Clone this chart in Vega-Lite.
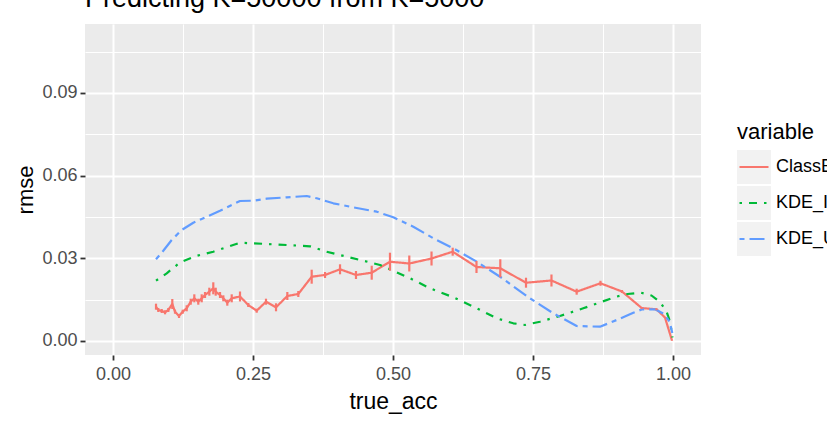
{
  "$schema": "https://vega.github.io/schema/vega-lite/v6.json",
  "width": 616,
  "height": 331,
  "autosize": {"type": "none"},
  "padding": {"left": 85, "top": 24, "right": 126, "bottom": 69},
  "background": "white",
  "title": {"text": "Predicting K=50000 from K=5000", "anchor": "start", "frame": "group", "fontSize": 27, "font": "Liberation Sans", "fontWeight": "normal", "color": "black", "baseline": "alphabetic", "offset": -10},
  "config": {
    "view": {"fill": "#ebebeb", "stroke": null},
    "font": "Liberation Sans",
    "legend": {"orient": "none", "legendX": 652, "legendY": 98, "titleFontSize": 22, "titleFontWeight": "normal", "titleColor": "black", "titleFont": "Liberation Sans", "labelFont": "Liberation Sans", "labelFontSize": 18, "labelColor": "black", "symbolType": "stroke", "symbolSize": 841, "symbolStrokeWidth": 2.2, "titlePadding": 6, "rowPadding": 2, "clipHeight": 34, "labelLimit": 300}
  },
  "datasets": {
    "keys": [
      {"variable": "ClassBased"},
      {"variable": "KDE_Independent"},
      {"variable": "KDE_Uniform"}
    ],
    "curves": [
      {"variable": "ClassBased", "true_acc": 0.0768, "rmse": 0.01245, "lo": 0.01136, "hi": 0.01354},
      {"variable": "ClassBased", "true_acc": 0.0809, "rmse": 0.01125, "lo": 0.01052, "hi": 0.01198},
      {"variable": "ClassBased", "true_acc": 0.0870, "rmse": 0.01089, "lo": 0.01016, "hi": 0.01162},
      {"variable": "ClassBased", "true_acc": 0.0929, "rmse": 0.01041, "lo": 0.00968, "hi": 0.01114},
      {"variable": "ClassBased", "true_acc": 0.0988, "rmse": 0.01125, "lo": 0.01052, "hi": 0.01198},
      {"variable": "ClassBased", "true_acc": 0.1059, "rmse": 0.01343, "lo": 0.01162, "hi": 0.01524},
      {"variable": "ClassBased", "true_acc": 0.1107, "rmse": 0.01063, "lo": 0.00990, "hi": 0.01136},
      {"variable": "ClassBased", "true_acc": 0.1179, "rmse": 0.00907, "lo": 0.00834, "hi": 0.00980},
      {"variable": "ClassBased", "true_acc": 0.1245, "rmse": 0.01063, "lo": 0.00990, "hi": 0.01136},
      {"variable": "ClassBased", "true_acc": 0.1316, "rmse": 0.01187, "lo": 0.01078, "hi": 0.01296},
      {"variable": "ClassBased", "true_acc": 0.1388, "rmse": 0.01426, "lo": 0.01317, "hi": 0.01535},
      {"variable": "ClassBased", "true_acc": 0.1452, "rmse": 0.01549, "lo": 0.01404, "hi": 0.01694},
      {"variable": "ClassBased", "true_acc": 0.1523, "rmse": 0.01426, "lo": 0.01317, "hi": 0.01535},
      {"variable": "ClassBased", "true_acc": 0.1584, "rmse": 0.01549, "lo": 0.01404, "hi": 0.01694},
      {"variable": "ClassBased", "true_acc": 0.1643, "rmse": 0.01669, "lo": 0.01560, "hi": 0.01778},
      {"variable": "ClassBased", "true_acc": 0.1720, "rmse": 0.01789, "lo": 0.01644, "hi": 0.01934},
      {"variable": "ClassBased", "true_acc": 0.1791, "rmse": 0.01912, "lo": 0.01694, "hi": 0.02130},
      {"variable": "ClassBased", "true_acc": 0.1834, "rmse": 0.01789, "lo": 0.01644, "hi": 0.01934},
      {"variable": "ClassBased", "true_acc": 0.1911, "rmse": 0.01669, "lo": 0.01560, "hi": 0.01778},
      {"variable": "ClassBased", "true_acc": 0.1970, "rmse": 0.01549, "lo": 0.01440, "hi": 0.01658},
      {"variable": "ClassBased", "true_acc": 0.2041, "rmse": 0.01390, "lo": 0.01281, "hi": 0.01499},
      {"variable": "ClassBased", "true_acc": 0.2120, "rmse": 0.01549, "lo": 0.01404, "hi": 0.01694},
      {"variable": "ClassBased", "true_acc": 0.2268, "rmse": 0.01615, "lo": 0.01434, "hi": 0.01796},
      {"variable": "ClassBased", "true_acc": 0.2416, "rmse": 0.01306, "lo": 0.01233, "hi": 0.01379},
      {"variable": "ClassBased", "true_acc": 0.2566, "rmse": 0.01099, "lo": 0.01026, "hi": 0.01172},
      {"variable": "ClassBased", "true_acc": 0.2732, "rmse": 0.01426, "lo": 0.01317, "hi": 0.01535},
      {"variable": "ClassBased", "true_acc": 0.2911, "rmse": 0.01223, "lo": 0.01078, "hi": 0.01368},
      {"variable": "ClassBased", "true_acc": 0.3113, "rmse": 0.01633, "lo": 0.01488, "hi": 0.01778},
      {"variable": "ClassBased", "true_acc": 0.3309, "rmse": 0.01705, "lo": 0.01596, "hi": 0.01814},
      {"variable": "ClassBased", "true_acc": 0.3548, "rmse": 0.02333, "lo": 0.02079, "hi": 0.02587},
      {"variable": "ClassBased", "true_acc": 0.3786, "rmse": 0.02395, "lo": 0.02286, "hi": 0.02504},
      {"variable": "ClassBased", "true_acc": 0.4054, "rmse": 0.02602, "lo": 0.02421, "hi": 0.02783},
      {"variable": "ClassBased", "true_acc": 0.4339, "rmse": 0.02395, "lo": 0.02250, "hi": 0.02540},
      {"variable": "ClassBased", "true_acc": 0.4620, "rmse": 0.02478, "lo": 0.02224, "hi": 0.02732},
      {"variable": "ClassBased", "true_acc": 0.4946, "rmse": 0.02877, "lo": 0.02550, "hi": 0.03204},
      {"variable": "ClassBased", "true_acc": 0.5291, "rmse": 0.02812, "lo": 0.02522, "hi": 0.03102},
      {"variable": "ClassBased", "true_acc": 0.5688, "rmse": 0.02993, "lo": 0.02739, "hi": 0.03247},
      {"variable": "ClassBased", "true_acc": 0.6066, "rmse": 0.03240, "lo": 0.03095, "hi": 0.03385},
      {"variable": "ClassBased", "true_acc": 0.6491, "rmse": 0.02685, "lo": 0.02467, "hi": 0.02903},
      {"variable": "ClassBased", "true_acc": 0.6916, "rmse": 0.02638, "lo": 0.02311, "hi": 0.02965},
      {"variable": "ClassBased", "true_acc": 0.7375, "rmse": 0.02115, "lo": 0.01934, "hi": 0.02296},
      {"variable": "ClassBased", "true_acc": 0.7830, "rmse": 0.02195, "lo": 0.01977, "hi": 0.02413},
      {"variable": "ClassBased", "true_acc": 0.8280, "rmse": 0.01789, "lo": 0.01680, "hi": 0.01898},
      {"variable": "ClassBased", "true_acc": 0.8705, "rmse": 0.02094, "lo": 0.02003, "hi": 0.02185},
      {"variable": "ClassBased", "true_acc": 0.9089, "rmse": 0.01796, "lo": 0.01742, "hi": 0.01850},
      {"variable": "ClassBased", "true_acc": 0.9441, "rmse": 0.01197, "lo": 0.01161, "hi": 0.01233},
      {"variable": "ClassBased", "true_acc": 0.9705, "rmse": 0.01150, "lo": 0.01114, "hi": 0.01186},
      {"variable": "ClassBased", "true_acc": 0.9857, "rmse": 0.00853, "lo": 0.00835, "hi": 0.00871},
      {"variable": "ClassBased", "true_acc": 0.9982, "rmse": 0.00018, "lo": 0.00008, "hi": 0.00028},
      {"variable": "KDE_Independent", "true_acc": 0.0768, "rmse": 0.02188},
      {"variable": "KDE_Independent", "true_acc": 0.0959, "rmse": 0.02456},
      {"variable": "KDE_Independent", "true_acc": 0.1196, "rmse": 0.02848},
      {"variable": "KDE_Independent", "true_acc": 0.1482, "rmse": 0.03084},
      {"variable": "KDE_Independent", "true_acc": 0.1791, "rmse": 0.03240},
      {"variable": "KDE_Independent", "true_acc": 0.2268, "rmse": 0.03567},
      {"variable": "KDE_Independent", "true_acc": 0.2745, "rmse": 0.03520},
      {"variable": "KDE_Independent", "true_acc": 0.3102, "rmse": 0.03483},
      {"variable": "KDE_Independent", "true_acc": 0.3518, "rmse": 0.03436},
      {"variable": "KDE_Independent", "true_acc": 0.3816, "rmse": 0.03240},
      {"variable": "KDE_Independent", "true_acc": 0.4173, "rmse": 0.03059},
      {"variable": "KDE_Independent", "true_acc": 0.4470, "rmse": 0.02914},
      {"variable": "KDE_Independent", "true_acc": 0.4768, "rmse": 0.02758},
      {"variable": "KDE_Independent", "true_acc": 0.4946, "rmse": 0.02602},
      {"variable": "KDE_Independent", "true_acc": 0.5304, "rmse": 0.02275},
      {"variable": "KDE_Independent", "true_acc": 0.5661, "rmse": 0.01912},
      {"variable": "KDE_Independent", "true_acc": 0.6077, "rmse": 0.01586},
      {"variable": "KDE_Independent", "true_acc": 0.6495, "rmse": 0.01187},
      {"variable": "KDE_Independent", "true_acc": 0.6852, "rmse": 0.00824},
      {"variable": "KDE_Independent", "true_acc": 0.7148, "rmse": 0.00642},
      {"variable": "KDE_Independent", "true_acc": 0.7357, "rmse": 0.00581},
      {"variable": "KDE_Independent", "true_acc": 0.7625, "rmse": 0.00700},
      {"variable": "KDE_Independent", "true_acc": 0.7982, "rmse": 0.00907},
      {"variable": "KDE_Independent", "true_acc": 0.8398, "rmse": 0.01187},
      {"variable": "KDE_Independent", "true_acc": 0.8732, "rmse": 0.01426},
      {"variable": "KDE_Independent", "true_acc": 0.8982, "rmse": 0.01607},
      {"variable": "KDE_Independent", "true_acc": 0.9188, "rmse": 0.01705},
      {"variable": "KDE_Independent", "true_acc": 0.9429, "rmse": 0.01753},
      {"variable": "KDE_Independent", "true_acc": 0.9616, "rmse": 0.01651},
      {"variable": "KDE_Independent", "true_acc": 0.9777, "rmse": 0.01397},
      {"variable": "KDE_Independent", "true_acc": 0.9888, "rmse": 0.01052},
      {"variable": "KDE_Independent", "true_acc": 0.9946, "rmse": 0.00708},
      {"variable": "KDE_Independent", "true_acc": 0.9991, "rmse": 0.00127},
      {"variable": "KDE_Uniform", "true_acc": 0.0768, "rmse": 0.02964},
      {"variable": "KDE_Uniform", "true_acc": 0.0898, "rmse": 0.03276},
      {"variable": "KDE_Uniform", "true_acc": 0.1048, "rmse": 0.03665},
      {"variable": "KDE_Uniform", "true_acc": 0.1227, "rmse": 0.04028},
      {"variable": "KDE_Uniform", "true_acc": 0.1434, "rmse": 0.04292},
      {"variable": "KDE_Uniform", "true_acc": 0.1673, "rmse": 0.04510},
      {"variable": "KDE_Uniform", "true_acc": 0.1911, "rmse": 0.04728},
      {"variable": "KDE_Uniform", "true_acc": 0.2268, "rmse": 0.05080},
      {"variable": "KDE_Uniform", "true_acc": 0.2505, "rmse": 0.05091},
      {"variable": "KDE_Uniform", "true_acc": 0.2745, "rmse": 0.05163},
      {"variable": "KDE_Uniform", "true_acc": 0.3102, "rmse": 0.05214},
      {"variable": "KDE_Uniform", "true_acc": 0.3459, "rmse": 0.05261},
      {"variable": "KDE_Uniform", "true_acc": 0.3638, "rmse": 0.05178},
      {"variable": "KDE_Uniform", "true_acc": 0.3934, "rmse": 0.04996},
      {"variable": "KDE_Uniform", "true_acc": 0.4291, "rmse": 0.04851},
      {"variable": "KDE_Uniform", "true_acc": 0.4709, "rmse": 0.04692},
      {"variable": "KDE_Uniform", "true_acc": 0.5005, "rmse": 0.04488},
      {"variable": "KDE_Uniform", "true_acc": 0.5363, "rmse": 0.04147},
      {"variable": "KDE_Uniform", "true_acc": 0.5720, "rmse": 0.03727},
      {"variable": "KDE_Uniform", "true_acc": 0.6077, "rmse": 0.03364},
      {"variable": "KDE_Uniform", "true_acc": 0.6495, "rmse": 0.02878},
      {"variable": "KDE_Uniform", "true_acc": 0.6911, "rmse": 0.02333},
      {"variable": "KDE_Uniform", "true_acc": 0.7446, "rmse": 0.01549},
      {"variable": "KDE_Uniform", "true_acc": 0.7863, "rmse": 0.01005},
      {"variable": "KDE_Uniform", "true_acc": 0.8280, "rmse": 0.00544},
      {"variable": "KDE_Uniform", "true_acc": 0.8696, "rmse": 0.00519},
      {"variable": "KDE_Uniform", "true_acc": 0.8995, "rmse": 0.00762},
      {"variable": "KDE_Uniform", "true_acc": 0.9291, "rmse": 0.01027},
      {"variable": "KDE_Uniform", "true_acc": 0.9441, "rmse": 0.01143},
      {"variable": "KDE_Uniform", "true_acc": 0.9679, "rmse": 0.01150},
      {"variable": "KDE_Uniform", "true_acc": 0.9839, "rmse": 0.00980},
      {"variable": "KDE_Uniform", "true_acc": 0.9938, "rmse": 0.00708},
      {"variable": "KDE_Uniform", "true_acc": 0.9988, "rmse": 0.00290}
    ]
  },
  "layer": [
    {
      "data": {"name": "keys"},
      "mark": {"type": "point", "filled": true, "opacity": 0, "color": "#f2f2f2"},
      "encoding": {
        "shape": {
          "field": "variable", "type": "nominal",
          "scale": {"range": ["square", "square", "square"]},
          "legend": {
            "title": "variable", "titleOpacity": 0, "labelOpacity": 0,
            "symbolType": "square", "symbolSize": 1156, "symbolStrokeWidth": 0, "symbolOpacity": 1, "symbolFillColor": "#f2f2f2",
            "encode": {"symbols": {"update": {"x": {"value": 17}, "y": {"value": 17}, "opacity": {"value": 1}, "fill": {"value": "#f2f2f2"}, "strokeWidth": {"value": 0}}}}
          }
        }
      }
    },
    {
      "data": {"name": "curves"},
      "mark": {"type": "line", "strokeWidth": 2.2, "strokeCap": "butt", "strokeJoin": "round"},
      "encoding": {
        "x": {
          "field": "true_acc", "type": "quantitative", "title": "true_acc",
          "scale": {"domain": [-0.05, 1.05], "nice": false, "zero": false},
          "axis": {
            "values": [0, 0.125, 0.25, 0.375, 0.5, 0.625, 0.75, 0.875, 1],
            "labelExpr": "round(datum.value*8)%2==1 ? '' : format(datum.value, '.2f')",
            "grid": true, "gridColor": "white",
            "gridWidth": {"condition": {"test": "round(datum.value*8)%2==1", "value": 1}, "value": 2},
            "tickOpacity": {"condition": {"test": "round(datum.value*8)%2==1", "value": 0}, "value": 1},
            "domain": false, "tickColor": "#333333", "tickWidth": 1.8, "tickSize": 5,
            "labelColor": "#4d4d4d", "labelFontSize": 18, "labelPadding": 5, "labelFont": "Liberation Sans",
            "titleFontSize": 23, "titleColor": "black", "titleFontWeight": "normal", "titlePadding": 7, "titleFont": "Liberation Sans"
          }
        },
        "y": {
          "field": "rmse", "type": "quantitative", "title": "rmse",
          "scale": {"domain": [-0.00508, 0.11502], "nice": false, "zero": false},
          "axis": {
            "values": [0, 0.015, 0.03, 0.045, 0.06, 0.075, 0.09, 0.105],
            "labelExpr": "round(datum.value/0.015)%2==1 ? '' : format(datum.value, '.2f')",
            "grid": true, "gridColor": "white",
            "gridWidth": {"condition": {"test": "round(datum.value/0.015)%2==1", "value": 1}, "value": 2},
            "tickOpacity": {"condition": {"test": "round(datum.value/0.015)%2==1", "value": 0}, "value": 1},
            "domain": false, "tickColor": "#333333", "tickWidth": 1.8, "tickSize": 5,
            "labelColor": "#4d4d4d", "labelFontSize": 18, "labelPadding": 3, "labelFont": "Liberation Sans",
            "titleFontSize": 22, "titleColor": "black", "titleFontWeight": "normal", "titlePadding": 4, "titleFont": "Liberation Sans"
          }
        },
        "color": {
          "field": "variable", "type": "nominal",
          "scale": {"domain": ["ClassBased", "KDE_Independent", "KDE_Uniform"], "range": ["#F8766D", "#00BA38", "#619CFF"]},
          "legend": {
            "title": "variable",
            "encode": {
              "symbols": {"update": {"x": {"value": 17}, "y": {"value": 17}}},
              "labels": {"update": {"x": {"value": 39}, "y": {"value": 17}}}
            }
          }
        },
        "strokeDash": {
          "field": "variable", "type": "nominal",
          "scale": {"domain": ["ClassBased", "KDE_Independent", "KDE_Uniform"], "range": [[1, 0], [2.5, 7, 8, 7], [5, 5, 15, 5]]},
          "legend": {"title": "variable"}
        }
      }
    },
    {
      "data": {"name": "curves"},
      "transform": [{"filter": "isValid(datum.lo)"}],
      "mark": {"type": "rule", "color": "#F8766D", "strokeWidth": 2.2},
      "encoding": {
        "x": {"field": "true_acc", "type": "quantitative", "title": "true_acc"},
        "y": {"field": "lo", "type": "quantitative", "title": "rmse"},
        "y2": {"field": "hi"}
      }
    }
  ]
}
